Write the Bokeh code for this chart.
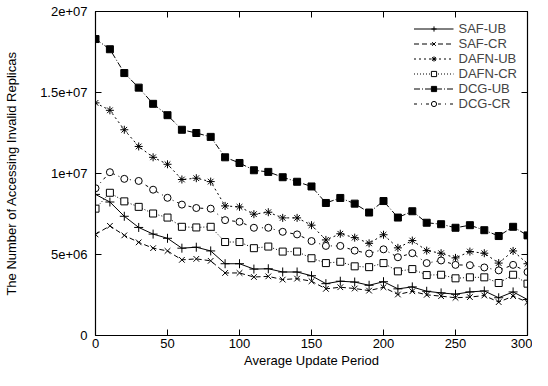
from bokeh.plotting import figure
from bokeh.models import FixedTicker, LinearAxis, Range1d, Legend, LegendItem, CustomJSTickFormatter
from bokeh.embed import file_html
from bokeh.resources import INLINE

x_period = [0, 10, 20, 30, 40, 50, 60, 70, 80, 90, 100, 110, 120, 130, 140, 150,
            160, 170, 180, 190, 200, 210, 220, 230, 240, 250, 260, 270, 280, 290, 300]

# values in millions
saf_ub = [8.71, 8.24, 7.36, 6.67, 6.26, 6.0, 5.39, 5.45, 5.22, 4.43, 4.43, 4.1, 4.12, 3.92, 3.92, 3.69,
          3.2, 3.35, 3.3, 3.1, 3.32, 2.88, 3.0, 2.73, 2.63, 2.55, 2.69, 2.75, 2.33, 2.69, 2.22]
saf_cr = [6.24, 6.77, 6.18, 5.75, 5.39, 5.22, 4.67, 4.73, 4.61, 3.86, 3.86, 3.61, 3.65, 3.45, 3.51, 3.35,
          2.88, 2.98, 2.9, 2.77, 2.98, 2.53, 2.73, 2.51, 2.43, 2.33, 2.37, 2.47, 2.06, 2.43, 2.06]
dafn_ub = [14.36, 13.9, 12.7, 11.67, 11.0, 10.57, 9.63, 9.71, 9.5, 8.0, 7.94, 7.49, 7.61, 7.26, 7.26, 6.81,
           5.9, 6.28, 6.04, 5.69, 6.22, 5.41, 5.86, 5.24, 5.08, 4.79, 5.18, 5.08, 4.47, 5.22, 4.43]
dafn_cr = [7.83, 8.81, 8.28, 7.94, 7.53, 7.28, 6.71, 6.67, 6.71, 5.77, 5.77, 5.39, 5.49, 5.18, 5.18, 4.77,
           4.47, 4.55, 4.27, 4.22, 4.47, 3.96, 4.1, 3.73, 3.75, 3.53, 3.59, 3.59, 3.24, 3.75, 3.2]
dcg_ub = [18.3, 17.67, 16.2, 15.3, 14.3, 13.6, 12.7, 12.5, 12.26, 11.0, 10.65, 10.2, 10.1, 9.77, 9.49, 9.2,
          8.18, 8.49, 8.14, 7.59, 8.3, 7.28, 7.67, 6.96, 6.87, 6.65, 6.81, 6.5, 6.14, 6.71, 6.18]
dcg_cr = [9.09, 10.08, 9.67, 9.54, 9.0, 8.5, 8.08, 7.87, 7.83, 7.12, 7.02, 6.65, 6.65, 6.4, 6.24, 5.83,
          5.53, 5.53, 5.24, 5.06, 5.32, 4.83, 5.08, 4.47, 4.63, 4.36, 4.34, 4.2, 4.02, 4.36, 3.92]

series_names = ["SAF-UB", "SAF-CR", "DAFN-UB", "DAFN-CR", "DCG-UB", "DCG-CR"]
x_ticks = [0, 50, 100, 150, 200, 250, 300]
y_ticks = [0, 5e6, 1e7, 1.5e7, 2e7]
y_tick_labels = ["0", "5e+06", "1e+07", "1.5e+07", "2e+07"]

FONT = "Liberation Sans"

p = figure(width=532, height=370, output_backend="svg", toolbar_location=None,
           x_range=Range1d(0, 300), y_range=Range1d(0, 2e7),
           min_border_left=95, min_border_right=5, min_border_top=11, min_border_bottom=0)
p.xgrid.visible = False
p.ygrid.visible = False
p.outline_line_color = "black"
p.outline_line_width = 1.2
p.background_fill_color = "white"
p.border_fill_color = "white"

for ax in (p.xaxis[0], p.yaxis[0]):
    ax.major_tick_in = 6
    ax.major_tick_out = 0
    ax.minor_tick_in = 0
    ax.minor_tick_out = 0
    ax.axis_line_color = "black"
    ax.major_label_text_font = FONT
    ax.major_label_text_font_size = "13px"
    ax.major_label_text_color = "black"
    ax.axis_label_text_font = FONT
    ax.axis_label_text_font_size = "13px"
    ax.axis_label_text_font_style = "normal"
    ax.axis_label_text_color = "black"

p.xaxis.ticker = FixedTicker(ticks=x_ticks)
p.yaxis.ticker = FixedTicker(ticks=y_ticks)
p.yaxis.major_label_overrides = {t: l for t, l in zip(y_ticks, y_tick_labels)}
p.xaxis.axis_label = "Average Update Period"
p.yaxis.axis_label = "The Number of Accessing Invalid Replicas"
p.xaxis.major_label_standoff = 3
p.xaxis.axis_label_standoff = 2
p.yaxis.major_label_standoff = 8
p.yaxis.axis_label_standoff = 18

# mirrored ticks on top and right (no labels)
blank = CustomJSTickFormatter(code="return ''")
top = LinearAxis(ticker=FixedTicker(ticks=x_ticks), formatter=blank, major_tick_in=6, major_tick_out=0,
                 minor_tick_in=0, minor_tick_out=0, major_label_standoff=0)
right = LinearAxis(ticker=FixedTicker(ticks=y_ticks), formatter=blank, major_tick_in=6, major_tick_out=0,
                   minor_tick_in=0, minor_tick_out=0, major_label_standoff=0)
p.add_layout(top, "above")
p.add_layout(right, "right")

data = [saf_ub, saf_cr, dafn_ub, dafn_cr, dcg_ub, dcg_cr]
dashes = ["solid", "5 3", "2 3", "1 2", "6 2 1 2", "3 4 1 4"]
markers = ["cross", "x", "asterisk", "square", "square", "circle"]
fills = [None, None, None, "white", "black", "white"]
sizes = [9, 8, 8, 7, 7, 7]

items = []
for name, vals, dash, mk, fc, sz in zip(series_names, data, dashes, markers, fills, sizes):
    ys = [v * 1e6 for v in vals]
    r1 = p.line(x_period, ys, line_color="black", line_width=1, line_dash=dash)
    r2 = p.scatter(x_period, ys, marker=mk, size=sz, line_color="black", line_width=1,
                   fill_color=fc if fc else "black")
    items.append(LegendItem(label=name, renderers=[r1, r2]))

legend = Legend(items=items, location="top_right", border_line_alpha=0,
                background_fill_alpha=0, label_text_font=FONT, label_text_font_size="13px",
                label_text_line_height=1.0,
                glyph_width=40, glyph_height=13, label_height=13, spacing=0, padding=0,
                margin=10, label_standoff=5)
p.add_layout(legend)

open("out.html", "w").write(file_html(p, INLINE))
